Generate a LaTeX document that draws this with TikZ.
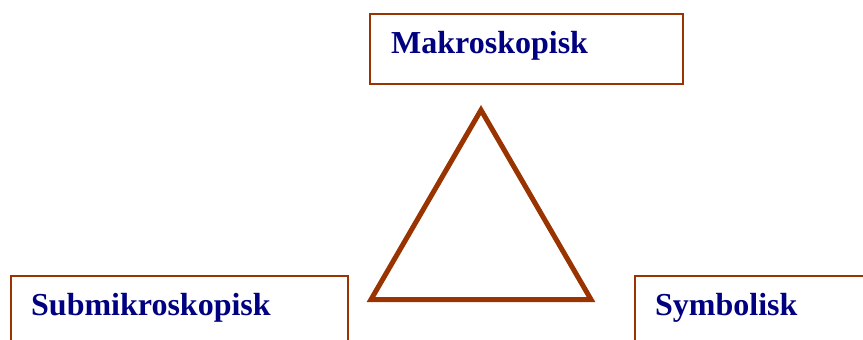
\documentclass[tikz,border=0pt]{standalone}
\usepackage{fontspec}
\setmainfont{Liberation Serif}
\definecolor{rust}{HTML}{993300}
\definecolor{navy}{HTML}{000080}
\tikzset{
  panel/.style={draw=rust, line width=2pt, anchor=north west, inner sep=0pt},
  caption/.style={anchor=base west, text=navy, inner sep=0pt,
    font=\fontsize{32}{38}\selectfont\bfseries},
}
\begin{document}
\begin{tikzpicture}[x=1pt, y=-1pt]
  \useasboundingbox (0,0) rectangle (863,340);
  \clip (0,0) rectangle (863,340);
  % the three levels
  \node[panel, minimum width=313pt, minimum height=70pt] (makro) at (369,13) {};
  \node[panel, minimum width=337pt, minimum height=90pt] (submikro) at (9.5,275) {};
  \node[panel, minimum width=260pt, minimum height=90pt] (symbol) at (634,275) {};
  \node[caption] (makrotext) at (391,53) {Makroskopisk};
  \node[caption] (submikrotext) at (31,315) {Submikroskopisk};
  \node[caption] (symboltext) at (655,315) {Symbolisk};
  % triangle between them
  \coordinate (apex) at (481,110);
  \coordinate (leftcorner) at (371,299.5);
  \coordinate (rightcorner) at (591,299.5);
  \draw[rust, line width=5pt] (apex) -- (leftcorner) -- (rightcorner) -- cycle;
\end{tikzpicture}
\end{document}
